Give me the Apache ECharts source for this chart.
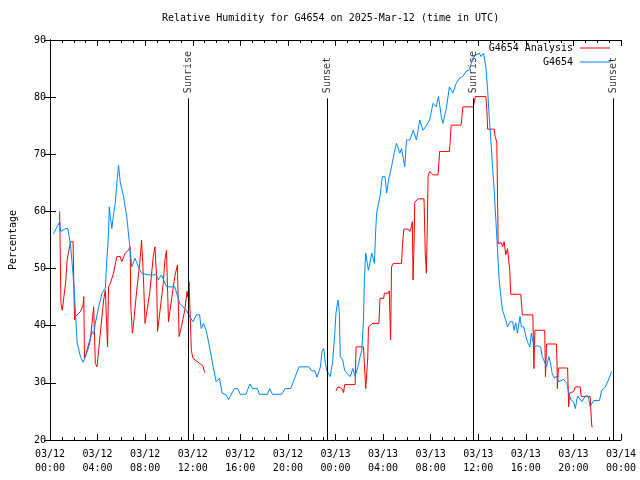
<!DOCTYPE html>
<html>
<head>
<meta charset="utf-8">
<script src="https://cdn.jsdelivr.net/npm/echarts@6/dist/echarts.min.js"></script>
<style>html,body{margin:0;padding:0;background:#fff;}#c{width:640px;height:480px;}</style>
</head>
<body>
<div id="c"></div>
<script>
// Time in hours since 2025-03-12 00:00 UTC
var obsTime = [0.28,0.81,0.89,1.31,1.50,1.73,2.00,2.15,2.28,2.56,2.78,2.98,3.26,3.53,3.67,3.81,4.09,4.37,4.65,4.78,4.92,4.98,5.07,5.20,5.34,5.48,5.62,5.76,5.90,6.18,6.45,6.68,6.87,7.15,7.43,7.70,8.26,8.96,9.10,9.37,9.79,10.49,10.91,11.46,11.74,12.02,12.30,12.58,12.71,12.91,13.13,13.41,13.69,13.97,14.25,14.47,14.80,15.00,15.50,15.78,16.00,16.47,16.80,17.03,17.45,17.59,18.28,18.47,18.70,19.47,19.76,20.23,20.51,20.93,21.76,21.98,22.26,22.45,22.73,22.87,23.01,23.15,23.29,23.56,23.76,23.93,24.04,24.21,24.32,24.40,24.60,24.77,24.96,25.23,25.46,25.65,25.88,26.07,26.21,26.35,26.44,26.54,26.77,27.05,27.27,27.38,27.46,27.74,27.94,28.16,28.30,28.46,28.71,28.99,29.13,29.41,29.55,29.82,29.97,30.25,30.53,30.80,31.08,31.36,31.64,31.91,32.20,32.47,32.66,32.89,33.03,33.31,33.58,33.86,34.14,34.42,34.70,34.97,35.25,35.53,35.81,36.09,36.23,36.45,36.64,36.79,36.92,37.06,37.20,37.34,37.48,37.62,37.76,37.90,38.04,38.31,38.46,38.67,38.90,39.01,39.15,39.29,39.51,39.63,39.82,39.98,40.13,40.34,40.46,40.57,40.73,40.98,41.24,41.38,41.51,41.74,41.93,42.07,42.21,42.40,42.57,42.76,43.18,43.46,43.60,43.80,44.02,44.16,44.35,44.72,44.99,45.24,45.41,45.69,46.19,46.38,46.66,46.94,47.22];
var obsRH = [56.0,58.2,56.5,57.0,57.0,54.1,47.4,42.2,37.0,34.6,33.6,34.6,36.3,39.0,38.5,40.4,43.3,45.7,46.6,51.5,56.2,60.8,59.1,57.0,59.5,61.4,64.9,68.1,65.2,62.6,59.1,54.4,50.3,51.8,50.3,49.2,48.9,48.9,48.0,48.9,46.8,46.8,43.9,42.7,41.6,40.7,41.9,41.9,39.5,40.4,39.2,36.3,33.1,30.2,30.8,28.2,27.9,27.1,29.0,29.0,28.0,28.0,29.8,29.0,29.0,28.0,28.0,29.0,28.0,28.0,29.0,29.0,30.5,32.8,32.8,32.1,32.1,31.0,32.8,35.5,36.0,33.4,32.0,31.1,33.7,38.4,42.2,44.5,42.5,34.6,34.0,32.2,31.7,31.1,32.5,31.1,32.8,34.6,35.7,41.0,48.6,52.7,49.7,52.7,50.9,56.8,59.7,62.6,66.1,66.1,63.2,65.5,67.8,70.8,71.9,70.2,71.0,67.8,72.5,72.5,74.2,72.5,76.0,74.2,75.0,76.0,78.9,78.3,80.1,76.6,75.4,78.0,81.8,80.7,82.4,83.3,83.6,84.5,84.8,86.8,87.4,87.7,87.1,87.7,85.3,81.2,76.6,72.5,67.8,63.7,58.5,53.2,48.0,45.1,42.7,41.0,39.8,40.7,40.7,39.2,40.5,38.7,41.6,39.8,39.8,38.4,37.2,36.3,38.7,37.5,36.3,36.5,36.3,34.6,34.0,32.8,34.6,33.5,31.7,30.8,31.2,30.2,30.6,29.9,28.2,27.0,26.7,25.5,27.7,26.7,27.7,27.7,25.8,26.9,26.9,28.7,29.2,30.5,32.0];

var anaTime = [0.81,0.89,0.92,1.03,1.17,1.31,1.44,1.59,1.73,1.94,2.00,2.06,2.15,2.56,2.78,2.84,2.90,3.06,3.26,3.40,3.53,3.67,3.76,3.81,3.95,4.09,4.23,4.37,4.51,4.65,4.80,4.84,4.92,5.07,5.34,5.62,5.90,6.03,6.32,6.59,6.74,6.79,6.93,7.01,7.29,7.57,7.70,7.79,7.85,7.99,8.12,8.41,8.68,8.82,8.91,8.96,9.04,9.24,9.52,9.66,9.79,9.91,9.96,10.21,10.49,10.71,10.79,10.85,11.04,11.33,11.52,11.60,11.69,11.79,11.88,12.02,12.16,12.58,12.85,13.00,
  18.0,
  24.04,24.21,24.37,24.54,24.68,24.77,25.65,25.73,26.35,26.46,26.54,26.65,26.71,26.77,27.13,27.65,27.74,28.05,28.11,28.46,28.52,28.57,28.63,28.71,28.86,29.55,29.63,29.74,30.11,30.25,30.38,30.46,30.52,30.61,30.66,30.94,31.44,31.55,31.64,31.72,31.78,31.91,32.05,32.20,32.61,32.69,32.75,33.58,33.66,33.72,34.56,34.64,34.70,35.58,35.67,35.75,36.64,36.73,36.79,37.34,37.42,37.56,37.62,37.67,37.81,37.95,38.04,38.18,38.31,38.46,38.59,38.65,38.73,39.57,39.65,39.71,40.59,40.68,40.76,41.59,41.65,41.74,42.57,42.63,42.65,42.74,43.51,43.60,43.68,44.02,44.16,44.57,44.66,45.41,45.47,45.55,45.63];
var anaRH = [60.0,60.0,43.9,42.7,45.1,47.4,51.5,53.2,54.7,54.7,47.7,41.0,41.6,42.5,43.6,45.1,34.3,35.2,36.9,37.8,40.4,43.3,43.3,33.4,32.8,35.7,38.7,41.6,44.5,46.2,46.2,36.3,46.8,47.4,49.2,52.1,52.1,51.2,52.7,53.2,53.8,43.3,38.7,40.0,46.2,51.5,55.0,55.0,48.6,40.4,40.4,46.2,52.1,53.8,53.8,48.6,39.0,42.5,47.4,51.5,53.2,53.2,40.7,44.5,48.6,50.6,50.6,38.1,39.8,42.7,46.0,45.0,47.7,47.7,35.7,34.3,34.1,33.4,33.0,31.8,
  null,
  28.6,29.3,29.0,29.0,28.3,29.7,29.7,36.3,36.3,36.0,29.0,29.0,34.3,39.8,40.4,40.4,44.8,44.8,45.7,45.7,46.1,42.2,37.5,50.3,50.9,50.9,54.1,56.9,56.9,56.5,57.3,58.2,48.0,54.7,61.6,62.2,62.2,52.4,49.2,57.6,66.1,67.0,67.2,66.4,66.4,68.4,70.5,70.5,72.8,75.1,75.1,76.9,78.3,78.3,78.6,80.1,80.1,77.5,74.4,74.4,73.1,72.1,62.9,54.4,54.4,54.5,53.8,54.7,52.4,53.5,53.5,49.7,45.5,45.5,43.6,41.9,41.9,32.5,39.2,39.2,31.1,36.8,36.8,32.8,29.0,32.6,32.6,25.8,28.2,28.5,29.3,29.3,27.6,27.6,24.9,22.3,22.3];

var sunTime = [11.6, 23.29, 35.56, 47.33];
var sunLabel = ['Sunrise', 'Sunset', 'Sunrise', 'Sunset'];
var sunLineTop = 79.8;
var sunLabelAt = 80.7;

var yTicks = [20, 30, 40, 50, 60, 70, 80, 90];

var FONT = 'DejaVu Sans Mono';

function pairs(t, v) {
  return t.map(function (x, i) { return [x, v[i] === null ? '-' : v[i]]; });
}
function pad(n) { return (n < 10 ? '0' : '') + n; }

var chart = echarts.init(document.getElementById('c'), null, {renderer: 'canvas'});

var axisCommon = {
  type: 'value', min: 0, max: 48, interval: 4,
  axisLine: {show: true, onZero: false, lineStyle: {color: '#000', width: 1}},
  axisTick: {show: true, inside: true, length: 6, lineStyle: {color: '#000'}},
  minorTick: {show: true, splitNumber: 4, length: 3, lineStyle: {color: '#000'}},
  splitLine: {show: false}
};

var option = {
  backgroundColor: '#fff',
  animation: false,
  title: {
    text: 'Relative Humidity for G4654 on 2025-Mar-12 (time in UTC)',
    left: 162, top: 13, padding: 0,
    textStyle: {fontFamily: FONT, fontSize: 10, fontWeight: 'normal', color: '#000'}
  },
  legend: [
    {data: ['G4654 Analysis'], right: 30, top: 43, padding: 0, itemWidth: 30, itemHeight: 1, icon: 'rect', align: 'right', itemGap: 7,
     textStyle: {fontFamily: FONT, fontSize: 10, color: '#000', padding: [0, 2, 0, 0]}},
    {data: ['G4654'], right: 30, top: 57, padding: 0, itemWidth: 30, itemHeight: 1, icon: 'rect', align: 'right',
     textStyle: {fontFamily: FONT, fontSize: 10, color: '#000', padding: [0, 2, 0, 0]}}
  ],
  grid: {left: 46, right: 19, top: 40, bottom: 40, containLabel: false},
  xAxis: [
    Object.assign({}, axisCommon, {
      position: 'bottom',
      axisLabel: {
        show: true, margin: 7, color: '#000', fontFamily: FONT, fontSize: 10, lineHeight: 14,
        formatter: function (v) {
          var d = 12 + Math.floor(v / 24);
          var h = v % 24;
          return '03/' + pad(d) + '\n' + pad(h) + ':00';
        }
      }
    }),
    Object.assign({}, axisCommon, {position: 'top', axisLabel: {show: false}})
  ],
  yAxis: [
    {
      type: 'value', min: yTicks[0], max: yTicks[yTicks.length - 1], interval: 10, position: 'left',
      name: 'Percentage', nameLocation: 'middle', nameGap: 32, nameRotate: 90,
      nameTextStyle: {fontFamily: FONT, fontSize: 10, color: '#000'},
      axisLine: {show: true, lineStyle: {color: '#000', width: 1}},
      axisTick: {show: true, inside: true, length: 6, lineStyle: {color: '#000'}},
      axisLabel: {color: '#000', fontFamily: FONT, fontSize: 10, margin: 4},
      splitLine: {show: false}
    },
    {
      type: 'value', min: yTicks[0], max: yTicks[yTicks.length - 1], interval: 10, position: 'right',
      axisLine: {show: true, lineStyle: {color: '#000', width: 1}},
      axisTick: {show: true, inside: true, length: 6, lineStyle: {color: '#000'}},
      axisLabel: {show: false},
      splitLine: {show: false}
    }
  ],
  series: [
    {
      name: 'sun', type: 'scatter', xAxisIndex: 0, yAxisIndex: 0, silent: true,
      symbolSize: 0.1, itemStyle: {color: 'rgba(0,0,0,0)'},
      data: sunTime.map(function (t, i) { return {value: [t, sunLabelAt], name: sunLabel[i]}; }),
      label: {
        show: true, position: 'inside', rotate: 90, align: 'left', verticalAlign: 'middle',
        formatter: function (p) { return p.name; },
        fontFamily: FONT, fontSize: 10, color: '#000'
      },
      markLine: {
        silent: true, symbol: ['none', 'none'], animation: false,
        lineStyle: {color: '#000', width: 1, type: 'solid'},
        label: {show: false},
        data: sunTime.map(function (t) { return [{coord: [t, yTicks[0]]}, {coord: [t, sunLineTop]}]; })
      }
    },
    {
      name: 'G4654 Analysis', type: 'line', xAxisIndex: 0, yAxisIndex: 0,
      showSymbol: false, symbol: 'none', connectNulls: false,
      lineStyle: {color: '#ff0000', width: 1},
      itemStyle: {color: '#ff0000'},
      data: pairs(anaTime, anaRH)
    },
    {
      name: 'G4654', type: 'line', xAxisIndex: 0, yAxisIndex: 0,
      showSymbol: false, symbol: 'none',
      lineStyle: {color: '#0088ff', width: 1},
      itemStyle: {color: '#0088ff'},
      data: pairs(obsTime, obsRH)
    }
  ]
};
chart.setOption(option);
</script>
</body>
</html>
